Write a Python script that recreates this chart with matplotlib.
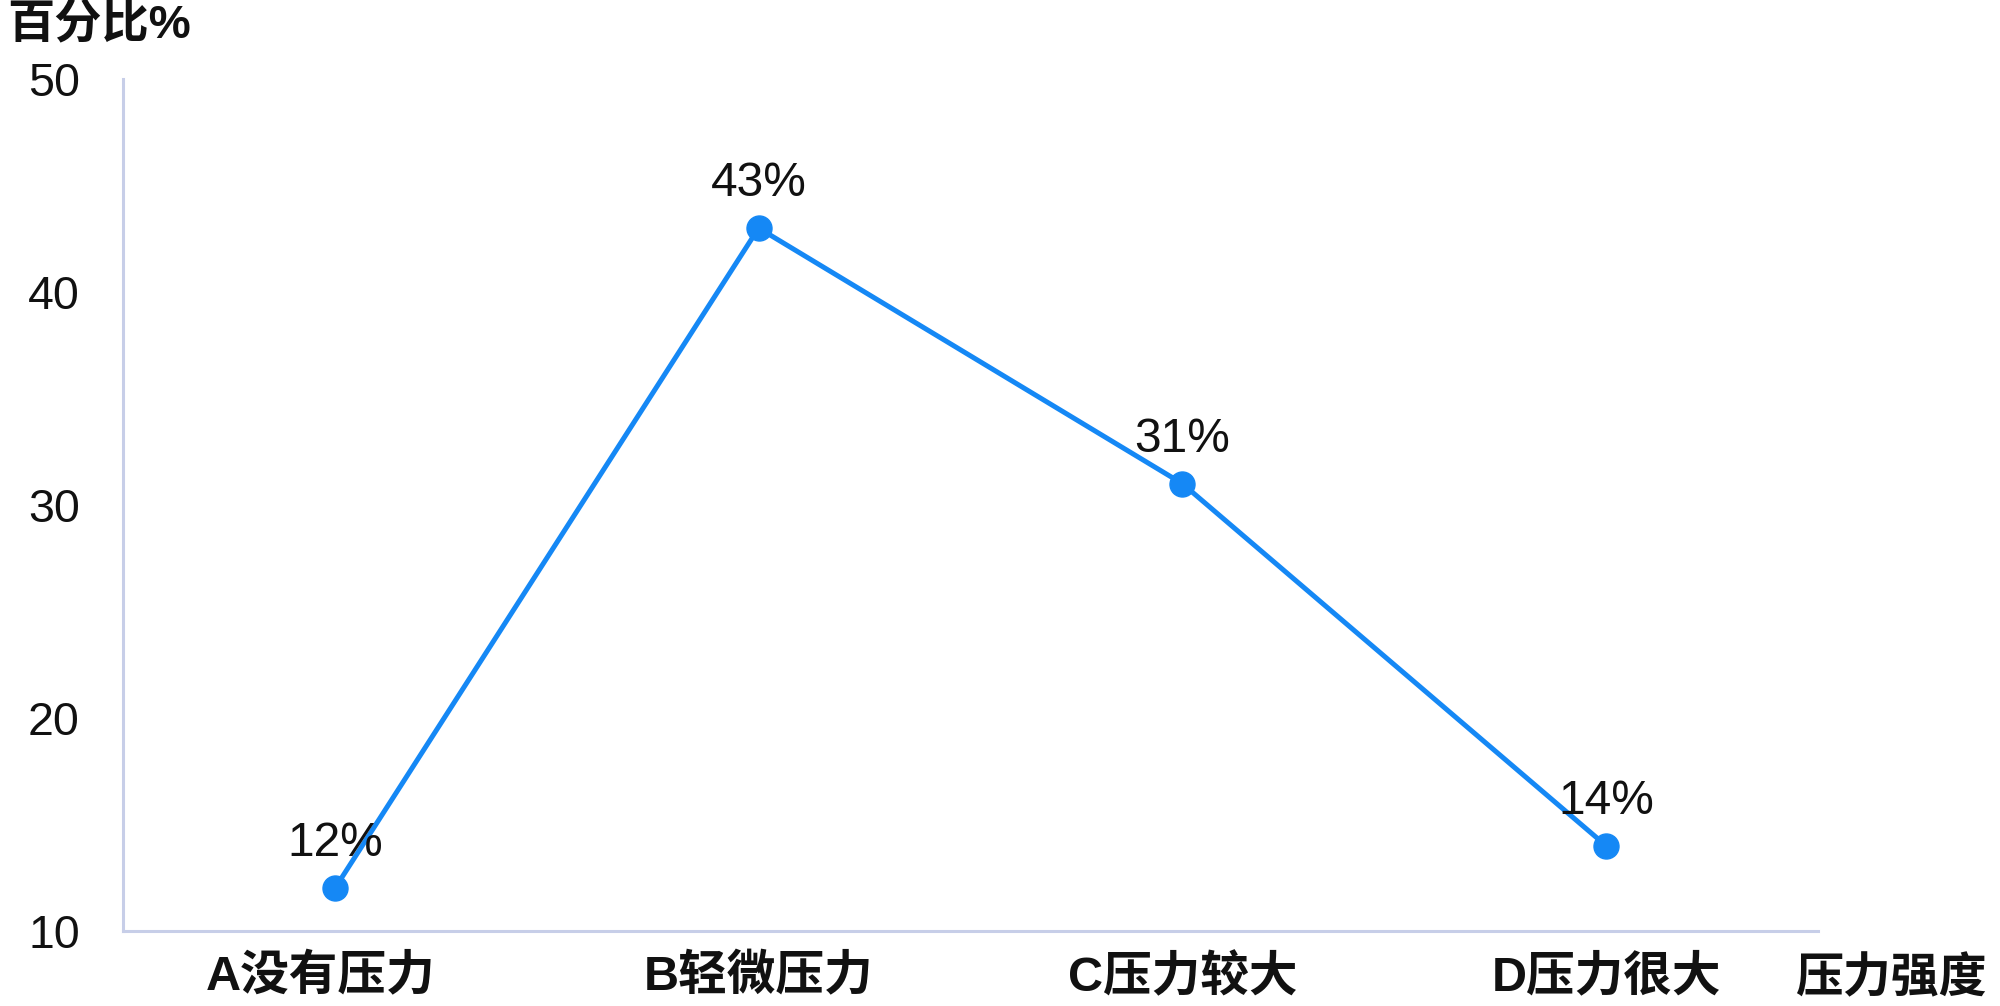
import matplotlib
matplotlib.use("Agg")
import matplotlib.pyplot as plt
from matplotlib.transforms import ScaledTranslation

plt.rcParams['font.family'] = ['Liberation Sans', 'Noto Sans CJK SC', 'DejaVu Sans']

categories = ["A没有压力", "B轻微压力", "C压力较大", "D压力很大"]
percent = [12, 43, 31, 14]
y_ticks = [10, 20, 30, 40, 50]
y_label = "百分比%"
x_label = "压力强度"

line_color = "#1588F5"
axis_color = "#C7CEE8"

fig = plt.figure(figsize=(20, 10.06), dpi=100)
ax = fig.add_axes([0.0615, 0.0746, 0.8475, 0.8469])

x = list(range(len(categories)))
ax.plot(x, percent, color=line_color, linewidth=3.6, marker='o',
        markersize=18, markerfacecolor=line_color, markeredgecolor=line_color,
        solid_capstyle='round', zorder=3)

for xi, v in zip(x, percent):
    ax.annotate(f"{v}%", (xi, v), xytext=(0, 32), textcoords='offset points',
                ha='center', va='center', fontsize=34.5, color='#111111')

ax.set_xlim(-0.5, len(categories) - 0.5)
ax.set_ylim(y_ticks[0], y_ticks[-1])
ax.set_yticks(y_ticks)
ax.set_yticklabels([str(t) for t in y_ticks], fontsize=33.5, color='#111111')
ax.set_xticks(x)
ax.set_xticklabels(categories, fontsize=35, fontweight='bold', color='#111111')
ax.tick_params(axis='y', length=0, pad=31)
ax.tick_params(axis='x', length=0, pad=17)

# the first category label sits slightly left of its point
first = ax.get_xticklabels()[0]
first.set_transform(first.get_transform() + ScaledTranslation(-0.14, 0, fig.dpi_scale_trans))

for side in ('top', 'right'):
    ax.spines[side].set_visible(False)
for side in ('left', 'bottom'):
    ax.spines[side].set_color(axis_color)
    ax.spines[side].set_linewidth(2.2)

fig.text(0.0035, 0.974, y_label, fontsize=34, fontweight='bold',
         ha='left', va='center', color='#111111')
fig.text(0.8975, 0.026, x_label, fontsize=34.5, fontweight='bold',
         ha='left', va='center', color='#111111')

fig.savefig("out.png", dpi=100, facecolor='white')
